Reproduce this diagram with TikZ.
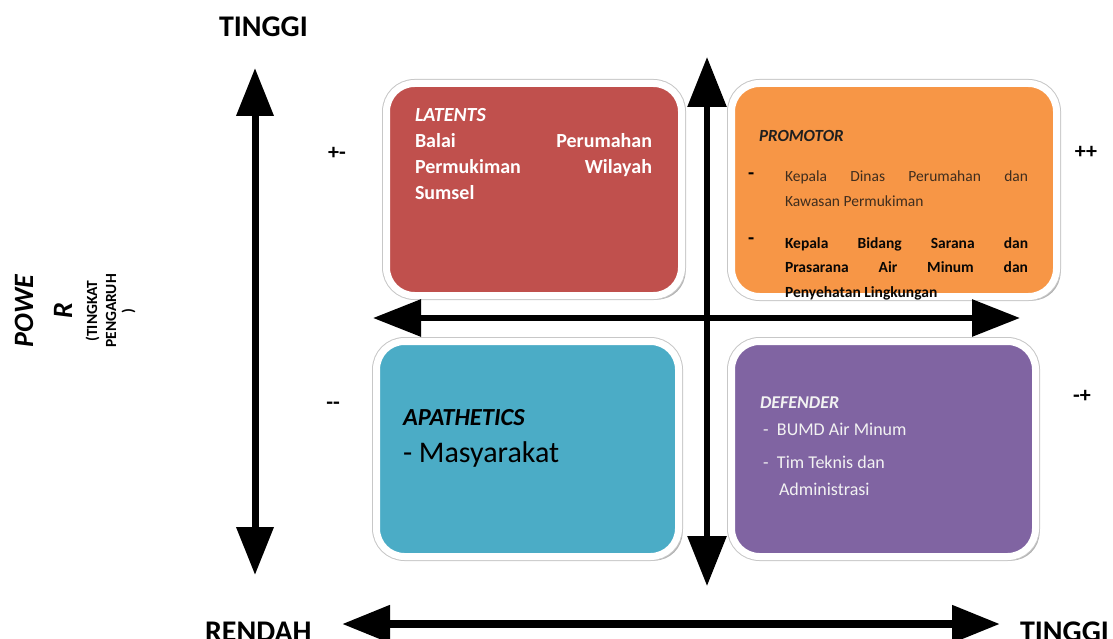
\documentclass[tikz,border=0pt]{standalone}
\usepackage{fontspec}
\setmainfont{Carlito}
\usetikzlibrary{arrows.meta,shadows}

\definecolor{latred}{HTML}{C0504D}
\definecolor{promor}{HTML}{F79646}
\definecolor{apablue}{HTML}{4BACC6}
\definecolor{defpur}{HTML}{8064A2}
\definecolor{promtext}{HTML}{3F2D1E}

% font size helper and a stack of lines whose base anchor is the first baseline
\newcommand\fs[1]{\fontsize{#1}{#1}\selectfont}
\newcommand\txtlines[2]{\vtop{\baselineskip=#1\lineskiplimit=-\maxdimen\relax #2}}

\begin{document}
\begin{tikzpicture}[x=1pt,y=-1pt,
  box/.style={rectangle, rounded corners=28pt, inner sep=0pt,
    drop shadow={shadow xshift=4pt, shadow yshift=-4pt, opacity=0.3, fill=black},
    preaction={draw=black!22, line width=9pt},
    draw=white, line width=7pt},
  lbl/.style={inner sep=0pt, outer sep=0pt, anchor=base west},
  sign/.style={inner sep=0pt, font=\fs{22}\bfseries},
  axislbl/.style={lbl, font=\fs{30}\bfseries},
  biarrow/.style={{Triangle[length=48pt,width=36pt]}-{Triangle[length=48pt,width=36pt]}},
  bigarrow/.style={{Triangle[length=50pt,width=38pt]}-{Triangle[length=50pt,width=38pt]}},
]
\useasboundingbox (0,0) rectangle (1113,639);

% quadrant boxes
\node[box, fill=latred,  minimum width=295pt, minimum height=212pt] (latents)  at (534,189.5) {};
\node[box, fill=promor,  minimum width=325pt, minimum height=213pt] (promotor) at (894,190) {};
\node[box, fill=apablue, minimum width=302pt, minimum height=215pt] (apathy)   at (527.5,449) {};
\node[box, fill=defpur,  minimum width=304pt, minimum height=215pt] (defender) at (883.5,449) {};

% axis end points
\coordinate (yTop) at (255,68);
\coordinate (yBot) at (255,575);
\coordinate (cTop) at (707,57);
\coordinate (cBot) at (707,586);
\coordinate (mLeft) at (373,318);
\coordinate (mRight) at (1020,318);
\coordinate (xLeft) at (342,624);
\coordinate (xRight) at (1000,624);

% axes
\draw[line width=7pt, biarrow] (yBot) -- (yTop);
\draw[line width=6pt, bigarrow] (cBot) -- (cTop);
\draw[line width=6pt, biarrow] (mLeft) -- (mRight);
\draw[line width=8pt, biarrow] (xLeft) -- (xRight);

% axis labels
\node[axislbl] (yHigh) at (219,37) {TINGGI};
\node[axislbl] (xLow) at (205,641) {RENDAH};
\node[axislbl] (xHigh) at (1020,641) {TINGGI};

\node[inner sep=0pt, anchor=base, rotate=90, font=\fs{28}\bfseries\itshape] (pw1) at (33,311) {POWE};
\node[inner sep=0pt, anchor=base, rotate=90, font=\fs{28}\bfseries\itshape] (pw2) at (72,311) {R};
\node[inner sep=0pt, anchor=base, rotate=90, font=\fs{15.5}\bfseries] (pw3) at (97,311) {(TINGKAT};
\node[inner sep=0pt, anchor=base, rotate=90, font=\fs{15.5}\bfseries] (pw4) at (116,311) {PENGARUH};
\node[inner sep=0pt, anchor=base, rotate=90, font=\fs{15.5}\bfseries] (pw5) at (133,311) {)};

% quadrant signs
\node[sign] (sLT) at (337,153) {+-};
\node[sign] (sRT) at (1086,152) {++};
\node[sign] (sLB) at (333,406) {-{}-};
\node[sign] (sRB) at (1082,396) {-+};

% LATENTS
\node[lbl, text=white, font=\fs{20}\bfseries] (latTxt) at (415,122)
  {\txtlines{26pt}{\hbox{\itshape LATENTS}%
    \hbox to 237pt{Balai\hfill Perumahan}%
    \hbox to 237pt{Permukiman\hfill Wilayah}%
    \hbox{Sumsel}}};

% PROMOTOR
\node[lbl, text=black!88, font=\fs{17}\bfseries\itshape] (promTitle) at (759,142) {PROMOTOR};
\node[lbl, text=black, font=\fs{20}\bfseries] (promB1) at (748,179) {-};
\node[lbl, text=black, font=\fs{20}\bfseries] (promB2) at (748,244) {-};
\node[lbl, text=promtext, font=\fs{15.5}] (promI1) at (785,182)
  {\txtlines{25pt}{\hbox to 243pt{Kepala\hfill Dinas\hfill Perumahan\hfill dan}%
    \hbox{Kawasan Permukiman}}};
\node[lbl, text=black!85!promtext, font=\fs{15.5}\bfseries] (promI2) at (785,248)
  {\txtlines{24.5pt}{\hbox to 243pt{Kepala\hfill Bidang\hfill Sarana\hfill dan}%
    \hbox to 243pt{Prasarana\hfill Air\hfill Minum\hfill dan}%
    \hbox{Penyehatan Lingkungan}}};

% APATHETICS
\node[lbl, text=black, font=\fs{24.5}\bfseries\itshape] (apaTitle) at (403,425) {APATHETICS};
\node[lbl, text=black, font=\fs{30}] (apaItem) at (403,462) {- Masyarakat};

% DEFENDER
\node[lbl, text=white!95!black, font=\fs{18}\bfseries\itshape] (defTitle) at (760,408) {DEFENDER};
\node[lbl, text=white!95!black, font=\fs{18}] (defI1) at (760,435)
  {\makebox[17pt][l]{\hspace{3pt}-}BUMD Air Minum};
\node[lbl, text=white!95!black, font=\fs{18}] (defI2) at (760,468)
  {\txtlines{27pt}{\hbox{\makebox[17pt][l]{\hspace{3pt}-}Tim Teknis dan}%
    \hbox{\hspace{19pt}Administrasi}}};

\end{tikzpicture}
\end{document}
